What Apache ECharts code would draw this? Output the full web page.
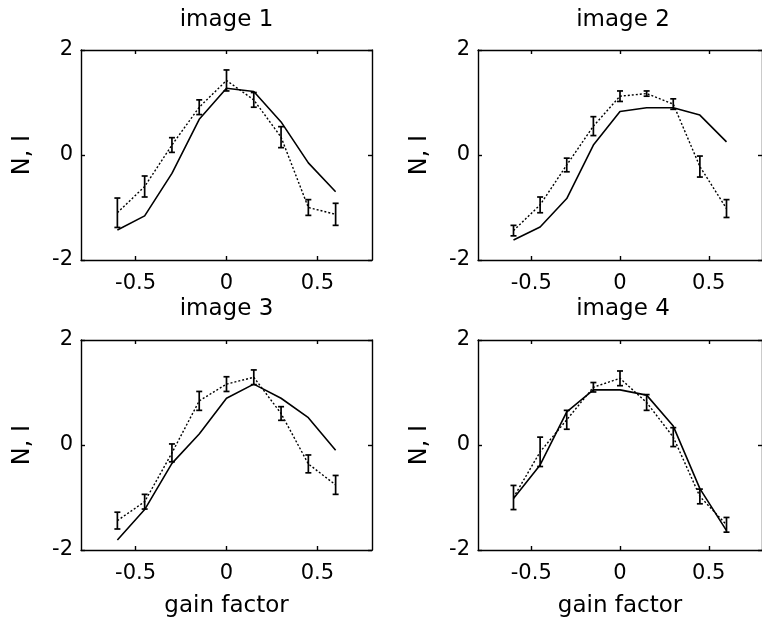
<!DOCTYPE html>
<html>
<head>
<meta charset="utf-8">
<script src="https://cdn.jsdelivr.net/npm/echarts@6/dist/echarts.min.js"></script>
<style>
html,body{margin:0;padding:0;background:#fff;}
#chart{width:762px;height:622px;}
</style>
</head>
<body>
<div id="chart"></div>
<script>
// ---- data ----
var gainFactor = [-0.6, -0.45, -0.3, -0.15, 0, 0.15, 0.3, 0.45, 0.6];
var panelTitles = ['image 1', 'image 2', 'image 3', 'image 4'];
var xTickValues = [-0.5, 0, 0.5];
var yMin = -2, yMax = 2, yStep = 2;
var xMin = -0.8, xMax = 0.8;
var xAxisTitle = 'gain factor';
var yAxisTitle = 'N, I';

// model (solid line)
var model1 = [-1.43, -1.16, -0.35, 0.68, 1.27, 1.21, 0.63, -0.15, -0.70];
var model2 = [-1.62, -1.37, -0.83, 0.19, 0.83, 0.90, 0.90, 0.76, 0.25];
var model3 = [-1.81, -1.23, -0.35, 0.21, 0.89, 1.16, 0.89, 0.52, -0.10];
var model4 = [-1.02, -0.38, 0.63, 1.05, 1.05, 0.95, 0.36, -0.83, -1.63];

// measured mean (dotted line)
var mean1 = [-1.10, -0.60, 0.19, 0.91, 1.42, 1.05, 0.34, -1.00, -1.13];
var mean2 = [-1.44, -0.95, -0.19, 0.55, 1.12, 1.17, 0.97, -0.22, -1.02];
var mean3 = [-1.44, -1.08, -0.15, 0.84, 1.16, 1.29, 0.60, -0.36, -0.76];
var mean4 = [-1.00, -0.13, 0.48, 1.10, 1.27, 0.81, 0.15, -0.98, -1.52];

// error bar half-lengths
var err1 = [0.28, 0.20, 0.14, 0.14, 0.20, 0.14, 0.20, 0.15, 0.21];
var err2 = [0.10, 0.15, 0.13, 0.18, 0.10, 0.05, 0.10, 0.20, 0.17];
var err3 = [0.16, 0.14, 0.17, 0.18, 0.14, 0.14, 0.13, 0.17, 0.18];
var err4 = [0.23, 0.28, 0.18, 0.09, 0.14, 0.15, 0.18, 0.14, 0.14];

var models = [model1, model2, model3, model4];
var means = [mean1, mean2, mean3, mean4];
var errs = [err1, err2, err3, err4];

// ---- layout ----
var FONT = 'DejaVu Sans';
var grids = [
  {left: 81, top: 50, width: 291, height: 210},
  {left: 478, top: 50, width: 290, height: 210},
  {left: 81, top: 340, width: 291, height: 210},
  {left: 478, top: 340, width: 290, height: 210}
];
var titleTops = [9, 9, 298, 298];

var option = {
  backgroundColor: '#fff',
  animation: false,
  textStyle: {fontFamily: FONT, color: '#000'},
  title: [], grid: [], xAxis: [], yAxis: [], series: []
};

var lineStyleAxis = {color: '#000', width: 1.4};

for (var i = 0; i < 4; i++) {
  var g = grids[i];
  option.grid.push({left: g.left, top: g.top, width: g.width, height: g.height, show: false});
  option.title.push({
    text: panelTitles[i], left: g.left + g.width * 0.5, top: titleTops[i], textAlign: 'center', padding: 0,
    textStyle: {fontFamily: FONT, fontSize: 23, fontWeight: 'normal', color: '#000'}
  });
  var bottomRow = i >= 2;
  option.xAxis.push({
    type: 'value', gridIndex: i, min: xMin, max: xMax, position: 'bottom',
    axisLine: {show: true, onZero: false, lineStyle: lineStyleAxis},
    axisTick: {show: true, inside: true, length: 4, customValues: xTickValues, lineStyle: lineStyleAxis},
    axisLabel: {show: true, customValues: xTickValues, margin: 13, fontFamily: FONT, fontSize: 21, color: '#000'},
    splitLine: {show: false},
    name: bottomRow ? xAxisTitle : '', nameLocation: 'middle', nameGap: 45,
    nameTextStyle: {fontFamily: FONT, fontSize: 23, color: '#000'}
  });
  option.xAxis.push({
    type: 'value', gridIndex: i, min: xMin, max: xMax, position: 'top',
    axisLine: {show: true, onZero: false, lineStyle: lineStyleAxis},
    axisTick: {show: true, inside: true, length: 4, customValues: xTickValues, lineStyle: lineStyleAxis},
    axisLabel: {show: false}, splitLine: {show: false}
  });
  option.yAxis.push({
    type: 'value', gridIndex: i, min: yMin, max: yMax, interval: yStep, position: 'left',
    axisLine: {show: true, onZero: false, lineStyle: lineStyleAxis},
    axisTick: {show: true, inside: true, length: 4, lineStyle: lineStyleAxis},
    axisLabel: {show: true, margin: 8, fontFamily: FONT, fontSize: 21, color: '#000'},
    splitLine: {show: false},
    name: yAxisTitle, nameLocation: 'middle', nameGap: 46, nameRotate: 90,
    nameTextStyle: {fontFamily: FONT, fontSize: 24, color: '#000'}
  });
  option.yAxis.push({
    type: 'value', gridIndex: i, min: yMin, max: yMax, interval: yStep, position: 'right',
    axisLine: {show: true, onZero: false, lineStyle: lineStyleAxis},
    axisTick: {show: true, inside: true, length: 4, lineStyle: lineStyleAxis},
    axisLabel: {show: false}, splitLine: {show: false}
  });

  var xi = i * 2, yi = i * 2;
  var modelData = [], meanData = [], errData = [];
  for (var k = 0; k < gainFactor.length; k++) {
    modelData.push([gainFactor[k], models[i][k]]);
    meanData.push([gainFactor[k], means[i][k]]);
    errData.push([gainFactor[k], means[i][k] - errs[i][k], means[i][k] + errs[i][k]]);
  }
  option.series.push({
    type: 'line', xAxisIndex: xi, yAxisIndex: yi, data: modelData, symbol: 'none',
    lineStyle: {color: '#000', width: 1.6, type: 'solid'}, z: 3
  });
  option.series.push({
    type: 'line', xAxisIndex: xi, yAxisIndex: yi, data: meanData, symbol: 'none',
    lineStyle: {color: '#000', width: 1.4, type: [2, 2]}, z: 3
  });
  option.series.push({
    type: 'custom', xAxisIndex: xi, yAxisIndex: yi, data: errData,
    encode: {x: 0, y: [1, 2]}, z: 4,
    renderItem: function (params, api) {
      var x = api.value(0), lo = api.value(1), hi = api.value(2);
      var p1 = api.coord([x, lo]), p2 = api.coord([x, hi]);
      var w = 3;
      var st = {stroke: '#000', lineWidth: 1.7};
      return {
        type: 'group',
        children: [
          {type: 'line', shape: {x1: p1[0], y1: p1[1], x2: p2[0], y2: p2[1]}, style: st},
          {type: 'line', shape: {x1: p1[0] - w, y1: p1[1], x2: p1[0] + w, y2: p1[1]}, style: st},
          {type: 'line', shape: {x1: p2[0] - w, y1: p2[1], x2: p2[0] + w, y2: p2[1]}, style: st}
        ]
      };
    }
  });
}

var chart = echarts.init(document.getElementById('chart'), null, {renderer: 'canvas'});
chart.setOption(option);
</script>
</body>
</html>
